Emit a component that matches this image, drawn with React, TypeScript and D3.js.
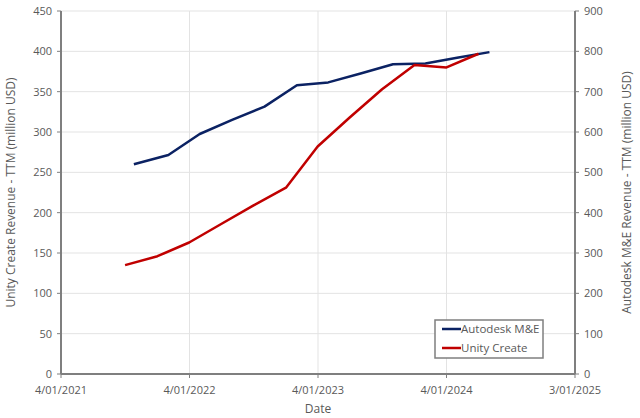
import React from "react";
import * as d3 from "d3";

// ── Data ──────────────────────────────────────────────────────────────────────

const autodeskDates = [
  "2021-10-25", "2022-01-31", "2022-04-30", "2022-07-31", "2022-10-31", "2023-01-31",
  "2023-04-30", "2023-07-31", "2023-10-31", "2024-01-31", "2024-04-30", "2024-07-31",
];
const autodeskValues = [520, 543, 595, 630, 663, 716, 723, 745, 768, 770, 784, 798];

const unityDates = [
  "2021-09-30", "2021-12-31", "2022-03-31", "2022-06-30", "2022-09-30", "2022-12-31",
  "2023-03-31", "2023-06-30", "2023-09-30", "2023-12-31", "2024-03-31", "2024-06-30",
];
const unityValues = [135, 146, 163, 186, 209, 231, 282, 318, 353, 383, 380, 397];

const xTickDates = ["2021-04-01", "2022-04-01", "2023-04-01", "2024-03-31", "2025-03-31"];
const xTickLabels = ["4/01/2021", "4/01/2022", "4/01/2023", "4/01/2024", "3/01/2025"];
const leftTicks = [0, 50, 100, 150, 200, 250, 300, 350, 400, 450];
const rightTicks = [0, 100, 200, 300, 400, 500, 600, 700, 800, 900];

// ── Constants ─────────────────────────────────────────────────────────────────

const W = 640;
const H = 418;
const PLOT = { left: 61, right: 575, top: 11, bottom: 374 };
const FONT = "'Open Sans', sans-serif";
const TEXT = "#595959";
const AXIS = "#7f7f7f";
const GRID = "#e3e3e3";
const BLUE = "#0b2263";
const RED = "#c00000";

const parse = d3.utcParse("%Y-%m-%d");

export default function App() {
  const x = d3
    .scaleUtc()
    .domain([parse("2021-04-01")!, parse("2025-03-31")!])
    .range([PLOT.left, PLOT.right]);
  const yLeft = d3.scaleLinear().domain([0, 450]).range([PLOT.bottom, PLOT.top]);
  const yRight = d3.scaleLinear().domain([0, 900]).range([PLOT.bottom, PLOT.top]);

  const blueLine = d3
    .line<number>()
    .x((_, i) => x(parse(autodeskDates[i])!))
    .y((d) => yRight(d))(autodeskValues);
  const redLine = d3
    .line<number>()
    .x((_, i) => x(parse(unityDates[i])!))
    .y((d) => yLeft(d))(unityValues);

  const xTicks = xTickDates.map((d) => x(parse(d)!));
  const midY = (PLOT.top + PLOT.bottom) / 2;

  return (
    <svg
      width={W}
      height={H}
      style={{ position: "absolute", left: 0, top: 0, background: "#fff" }}
      fontFamily={FONT}
    >
      {/* horizontal grid */}
      {leftTicks.map((t) => (
        <line key={"hg" + t} x1={PLOT.left} x2={PLOT.right} y1={yLeft(t)} y2={yLeft(t)} stroke={GRID} strokeWidth={1} />
      ))}
      {/* vertical grid */}
      {xTicks.slice(1, -1).map((px, i) => (
        <line key={"vg" + i} x1={px} x2={px} y1={PLOT.top} y2={PLOT.bottom} stroke={GRID} strokeWidth={1} />
      ))}

      {/* series */}
      <path d={blueLine ?? ""} fill="none" stroke={BLUE} strokeWidth={2.5} strokeLinejoin="round" />
      <path d={redLine ?? ""} fill="none" stroke={RED} strokeWidth={2.5} strokeLinejoin="round" />

      {/* axes lines */}
      <line x1={PLOT.left} x2={PLOT.left} y1={PLOT.top} y2={PLOT.bottom} stroke={AXIS} strokeWidth={2} />
      <line x1={PLOT.right} x2={PLOT.right} y1={PLOT.top} y2={PLOT.bottom} stroke={AXIS} strokeWidth={2} />
      <line x1={PLOT.left} x2={PLOT.right} y1={PLOT.bottom} y2={PLOT.bottom} stroke={AXIS} strokeWidth={2} />

      {/* left ticks */}
      {leftTicks.map((t) => (
        <g key={"lt" + t}>
          <line x1={PLOT.left - 4} x2={PLOT.left} y1={yLeft(t)} y2={yLeft(t)} stroke={AXIS} strokeWidth={1} />
          <text x={PLOT.left - 9} y={yLeft(t)} dy="0.35em" textAnchor="end" fontSize={11} fill={TEXT}>
            {t}
          </text>
        </g>
      ))}
      {/* right ticks */}
      {rightTicks.map((t) => (
        <g key={"rt" + t}>
          <line x1={PLOT.right} x2={PLOT.right + 4} y1={yRight(t)} y2={yRight(t)} stroke={AXIS} strokeWidth={1} />
          <text x={PLOT.right + 9} y={yRight(t)} dy="0.35em" textAnchor="start" fontSize={11} fill={TEXT}>
            {t}
          </text>
        </g>
      ))}
      {/* x ticks */}
      {xTicks.map((px, i) => (
        <g key={"xt" + i}>
          <line x1={px} x2={px} y1={PLOT.bottom} y2={PLOT.bottom + 4} stroke={AXIS} strokeWidth={1} />
          <text x={px} y={PLOT.bottom + 20} textAnchor="middle" fontSize={11} fill={TEXT}>
            {xTickLabels[i]}
          </text>
        </g>
      ))}

      {/* axis titles */}
      <text x={(PLOT.left + PLOT.right) / 2} y={413} textAnchor="middle" fontSize={12} fill={TEXT}>
        Date
      </text>
      <text
        transform={`translate(15,${midY}) rotate(-90)`}
        textAnchor="middle"
        fontSize={12}
        fill={TEXT}
      >
        Unity Create Revenue - TTM (million USD)
      </text>
      <text
        transform={`translate(631,${midY}) rotate(-90)`}
        textAnchor="middle"
        fontSize={12}
        fill={TEXT}
      >
        Autodesk M&amp;E Revenue - TTM (million USD)
      </text>

      {/* legend */}
      <g transform="translate(435,320)">
        <rect x={0} y={0} width={108} height={38} fill="#fff" stroke={AXIS} strokeWidth={1.5} />
        {[
          { color: BLUE, label: "Autodesk M&E" },
          { color: RED, label: "Unity Create" },
        ].map((d, i) => (
          <g key={d.label} transform={`translate(0,${9 + i * 19})`}>
            <line x1={7} x2={26} y1={0} y2={0} stroke={d.color} strokeWidth={2.5} />
            <text x={26} y={0} dy="0.35em" fontSize={11.5} fill={TEXT}>
              {d.label}
            </text>
          </g>
        ))}
      </g>
    </svg>
  );
}
